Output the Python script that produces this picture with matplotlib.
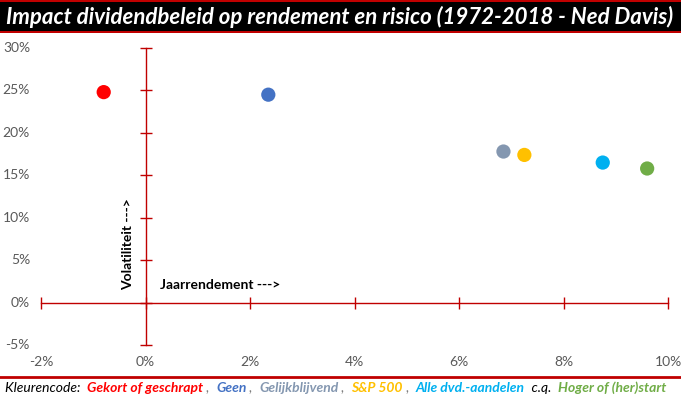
import matplotlib
matplotlib.use("Agg")
import matplotlib.pyplot as plt
from matplotlib.patches import Rectangle
from matplotlib.lines import Line2D
import matplotlib.transforms as mtrans

# ── Data ─────────────────────────────────────────────────────────────────────
groups = ["Gekort of geschrapt", "Geen", "Gelijkblijvend", "S&P 500",
          "Alle dvd.-aandelen", "Hoger of (her)start"]
returns = [-0.8, 2.35, 6.85, 7.25, 8.75, 9.6]      # jaarrendement (%)
volatility = [24.8, 24.5, 17.8, 17.4, 16.5, 15.8]  # volatiliteit (%)
colors = ["#FF0000", "#4472C4", "#8497B0", "#FFC000", "#00B0F0", "#70AD47"]

x_ticks = [-2, 0, 2, 4, 6, 8, 10]
y_ticks = [-5, 0, 5, 10, 15, 20, 25, 30]

AXIS_RED = "#C00000"
TICK_GREY = "#595959"
FONT = "Lato"

# ── Figure ───────────────────────────────────────────────────────────────────
fig = plt.figure(figsize=(6.81, 3.99), dpi=100)
ax = fig.add_axes([0.0602, 0.1353, 0.9208, 0.7444])
ax.set_xlim(-2, 10)
ax.set_ylim(-5, 30)

ax.scatter(returns, volatility, s=105, c=colors, zorder=5, linewidths=0)

# axes through the origin
for s in ["top", "right"]:
    ax.spines[s].set_visible(False)
for s in ["left", "bottom"]:
    ax.spines[s].set_position(("data", 0))
    ax.spines[s].set_color(AXIS_RED)
    ax.spines[s].set_linewidth(1.0)
ax.set_xticks(x_ticks)
ax.set_yticks(y_ticks)
ax.tick_params(direction="inout", length=9, width=1.0, color=AXIS_RED,
               labelleft=False, labelbottom=False)

# tick labels at the low edges
ytr = mtrans.blended_transform_factory(fig.transFigure, ax.transData)
for v in y_ticks:
    ax.text(30 / 681, v, f"{v}%", transform=ytr, ha="right", va="center",
            fontsize=10, color=TICK_GREY, family=FONT)
xtr = mtrans.blended_transform_factory(ax.transData, fig.transFigure)
for v in x_ticks:
    ax.text(v, 1 - 362 / 399, f"{v}%", transform=xtr, ha="center", va="center",
            fontsize=10, color=TICK_GREY, family=FONT)

# axis titles inside the plot
ax.text(-0.34, 1.5, "Volatiliteit --->", rotation=90, ha="center", va="bottom",
        fontsize=10, fontweight="bold", color="black", family=FONT)
ax.text(0.27, 2.1, "Jaarrendement --->", ha="left", va="center",
        fontsize=10, fontweight="bold", color="black", family=FONT)

# ── Title bar ────────────────────────────────────────────────────────────────
fig.patches.append(Rectangle((0, 1 - 33 / 399), 1, 33 / 399, transform=fig.transFigure,
                             facecolor=AXIS_RED, edgecolor="none", zorder=0))
fig.patches.append(Rectangle((0, 1 - 31 / 399), 1, 29 / 399, transform=fig.transFigure,
                             facecolor="black", edgecolor="none", zorder=1))
fig.text(6 / 681, 1 - 16.5 / 399, "Impact dividendbeleid op rendement en risico (1972-2018 - Ned Davis)",
         ha="left", va="center", fontsize=16, fontweight="bold", style="italic",
         color="white", family=FONT)

# ── Footer legend ────────────────────────────────────────────────────────────
fig.add_artist(Line2D([0, 1], [1 - 377 / 399] * 2, color=AXIS_RED, lw=2,
                      transform=fig.transFigure))
parts = [("Kleurencode:  ", "black", "normal")]
for i, (g, c) in enumerate(zip(groups, colors)):
    parts.append((g, c, "bold"))
    if i < len(groups) - 2:
        parts.append((" ,  ", "#7F7F7F", "normal"))
    elif i == len(groups) - 2:
        parts.append(("  c.q.  ", "black", "normal"))

renderer = fig.canvas.get_renderer()
x0 = 5
for txt, c, w in parts:
    t = fig.text(x0 / 681, 1 - 388 / 399, txt, ha="left", va="center",
                 fontsize=10, fontweight=w, style="italic", color=c, family=FONT)
    bb = t.get_window_extent(renderer=renderer)
    x0 += bb.width

fig.savefig("out.png", dpi=100)
